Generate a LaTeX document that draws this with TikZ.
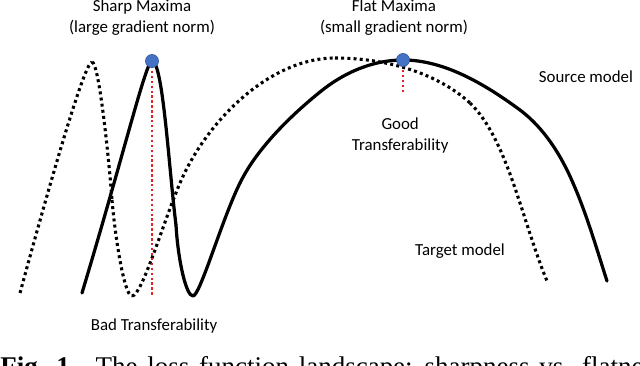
\documentclass[tikz,border=0pt]{standalone}
\usepackage{fontspec}
\setmainfont{Liberation Serif}
\newfontfamily\labelfont{Carlito}
\usepackage{tikz}
\usetikzlibrary{positioning}
\definecolor{dotblue}{RGB}{68,114,196}
\definecolor{dotedge}{RGB}{47,82,143}
\definecolor{peakred}{RGB}{228,32,38}
\tikzset{
  source/.style={line width=2.3pt, line cap=round, color=black},
  target/.style={line width=2.2pt, dash pattern=on 2.1pt off 2.3pt, color=black},
  drop/.style={line width=1.6pt, dash pattern=on 1.7pt off 1.8pt, color=peakred},
  peakdot/.style={circle, fill=dotblue, draw=dotedge, line width=0.4pt, inner sep=0pt, minimum size=9.3pt},
  lbl/.style={font=\labelfont\fontsize{12}{15}\selectfont, align=center, inner sep=0pt}
}

\begin{document}
\begin{tikzpicture}[x=0.025cm, y=-0.025cm]
  \useasboundingbox (0,0) rectangle (640,366);

  % Target model (dotted)
  \draw[target] (20,293) .. controls (45,201) and (84,62) .. (92,62);
  \draw[target] (92,62) .. controls (99,62) and (109,160) .. (112,200);
  \draw[target] (112,200) .. controls (115,235) and (124,296) .. (132,296);
  \draw[target] (132,296) .. controls (142,296) and (164,220) .. (180,183);
  \draw[target] (180,183) .. controls (206,122) and (269,58) .. (335,58);
  \draw[target] (335,58) .. controls (382,58) and (435,71) .. (470,103);
  \draw[target] (470,103) .. controls (508,140) and (522,221) .. (547,281);

  % Source model (solid)
  \draw[source] (82,293) .. controls (125,150) and (146,61) .. (152,61);
  \draw[source] (152,61) .. controls (163,61) and (169,170) .. (176,225);
  \draw[source] (176,225) .. controls (178,260) and (186,296) .. (193,296);
  \draw[source] (193,296) .. controls (200,296) and (222,219) .. (240,183);
  \draw[source] (240,183) .. controls (256,150) and (289,117) .. (320,92);
  \draw[source] (320,92) .. controls (342,74) and (371,60) .. (403,60);
  \draw[source] (403,60) .. controls (445,60) and (486,85) .. (520,110);
  \draw[source] (520,110) .. controls (544,128) and (561,155) .. (573,183);
  \draw[source] (573,183) .. controls (587,215) and (597,250) .. (607,281);

  % Maxima and drop lines
  \coordinate (sharptop) at (152,61);
  \coordinate (sharpfoot) at (152,296);
  \coordinate (flattop) at (403,60);
  \coordinate (flatfoot) at (403,93);
  \draw[drop] (sharptop) -- (sharpfoot);
  \draw[drop] (flattop) -- (flatfoot);
  \node[peakdot] (sharpdot) at (sharptop) {};
  \node[peakdot] (flatdot) at (flattop) {};

  % Labels
  \node[lbl] (sharplbl) at (142,18) {Sharp Maxima\\(large gradient norm)};
  \node[lbl] (flatlbl) at (394,18) {Flat Maxima\\(small gradient norm)};
  \node[lbl] (srclbl) at (586,77) {Source model};
  \node[lbl] (tgtlbl) at (460,251) {Target model};
  \node[lbl, below=6mm of flatfoot, xshift=-2pt] (goodlbl) {Good\\Transferability};
  \node[lbl, below=5.5mm of sharpfoot, xshift=1.5pt] (badlbl) {Bad Transferability};

  % Caption (cut by the page edge)
  \node[anchor=base west, inner sep=0pt, font=\fontsize{19.2}{23}\selectfont] (caption) at (0,375.5)
    {\spaceskip=0.36em\relax\textbf{Fig. 1.}\hspace{0.7em}The loss function landscape: sharpness vs. flatness};
\end{tikzpicture}
\end{document}
